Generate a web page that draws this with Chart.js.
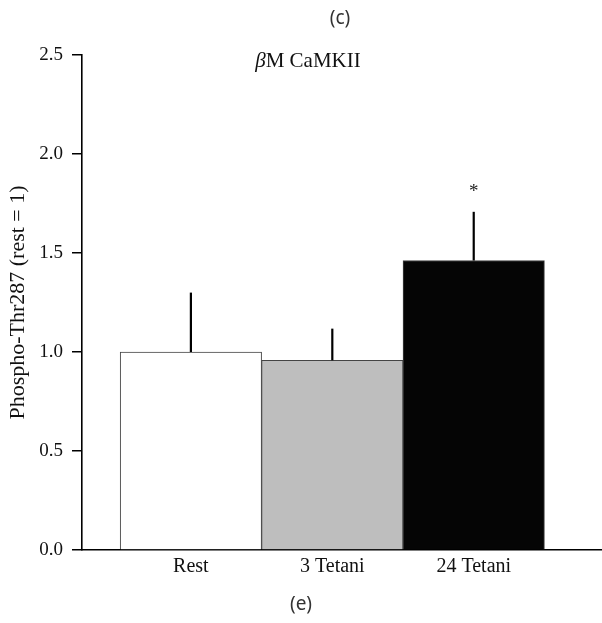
<!DOCTYPE html>
<html>
<head>
<meta charset="utf-8">
<script src="https://cdn.jsdelivr.net/npm/chart.js@4/dist/chart.umd.min.js"></script>
<style>
  html, body { margin: 0; padding: 0; background: #fff; }
  #wrap { width: 602px; height: 623px; }
</style>
</head>
<body>
<div id="wrap"><canvas id="c" width="602" height="623"></canvas></div>
<script>
// ---- data ----
const categories = ['Rest', '3 Tetani', '24 Tetani'];
const means = [1.00, 0.958, 1.462];
const errUpper = [1.30, 1.118, 1.708];
const sigMarks = ['', '', '*'];
const yTicks = [0, 0.5, 1.0, 1.5, 2.0, 2.5];
const barColors = ['#ffffff', '#bebebe', '#050505'];
const panelTop = '(c)';
const panelBottom = '(e)';
const yTitle = 'Phospho-Thr287 (rest = 1)';
const innerTitleGreek = 'β';
const innerTitleRest = 'M CaMKII';

const SERIF = '"Liberation Serif", "DejaVu Serif", serif';
const SANS = '"Noto Sans", "Open Sans", sans-serif';

const errorBars = {
  id: 'errorBars',
  afterDatasetsDraw(chart) {
    const {ctx, scales: {x, y}} = chart;
    ctx.save();
    ctx.strokeStyle = '#000';
    ctx.lineWidth = 2.2;
    means.forEach((m, i) => {
      const px = x.getPixelForValue(i + 1);
      ctx.beginPath();
      ctx.moveTo(px, y.getPixelForValue(m));
      ctx.lineTo(px, y.getPixelForValue(errUpper[i]));
      ctx.stroke();
      if (sigMarks[i]) {
        ctx.fillStyle = '#222';
        ctx.font = '19px ' + SERIF;
        ctx.textAlign = 'center';
        ctx.textBaseline = 'middle';
        ctx.fillText(sigMarks[i], px, y.getPixelForValue(errUpper[i]) - 20);
      }
    });
    ctx.restore();
  }
};

const texts = {
  id: 'texts',
  afterDraw(chart) {
    const {ctx} = chart;
    ctx.save();
    ctx.fillStyle = '#333';
    ctx.font = '19px ' + SANS;
    ctx.textAlign = 'center';
    ctx.textBaseline = 'middle';
    ctx.fillText(panelTop, 340, 19);
    ctx.fillText(panelBottom, 301, 605);
    // inner title with italic beta
    ctx.fillStyle = '#111';
    const fGreek = 'italic 21px ' + SERIF;
    const fRest = '21px ' + SERIF;
    ctx.font = fGreek;
    const wG = ctx.measureText(innerTitleGreek).width;
    ctx.font = fRest;
    const wR = ctx.measureText(innerTitleRest).width;
    const cx = 308, cy = 61;
    let sx = cx - (wG + wR) / 2;
    ctx.textAlign = 'left';
    ctx.font = fGreek;
    ctx.fillText(innerTitleGreek, sx, cy);
    ctx.font = fRest;
    ctx.fillText(innerTitleRest, sx + wG, cy);
    ctx.restore();
  }
};

new Chart(document.getElementById('c'), {
  type: 'bar',
  data: {
    datasets: [{
      data: means.map((v, i) => ({x: i + 1, y: v})),
      backgroundColor: barColors,
      borderColor: '#444',
      borderWidth: 1,
      categoryPercentage: 1.0,
      barPercentage: 1.0
    }]
  },
  options: {
    responsive: false,
    animation: false,
    layout: { padding: { top: 55, right: 1, bottom: 0, left: 0 } },
    plugins: { legend: { display: false }, tooltip: { enabled: false } },
    scales: {
      x: {
        type: 'linear',
        offset: false,
        min: 0.23,
        max: 3.9,
        grid: { display: false, drawTicks: false },
        border: { display: true, color: '#000', width: 1.6 },
        afterBuildTicks(s) { s.ticks = categories.map((c, i) => ({value: i + 1})); },
        afterFit(s) { s.height = 73; },
        ticks: {
          autoSkip: false,
          maxRotation: 0,
          padding: 5,
          color: '#111',
          font: { family: SERIF, size: 20 },
          callback: (v) => categories[Math.round(v) - 1] || ''
        }
      },
      y: {
        min: 0,
        max: 2.5,
        afterBuildTicks(s) { s.ticks = yTicks.map(v => ({value: v})); },
        afterFit(s) { s.width = 82; },
        grid: { display: true, drawOnChartArea: false, drawTicks: true, tickLength: 10, color: '#000', lineWidth: 1.5 },
        border: { display: true, color: '#000', width: 1.6 },
        ticks: {
          padding: 9,
          color: '#111',
          font: { family: SERIF, size: 19 },
          callback: (v) => Number(v).toFixed(1)
        },
        title: {
          display: true,
          text: yTitle,
          color: '#111',
          font: { family: SERIF, size: 22 },
          padding: { top: 5, bottom: 0 }
        }
      }
    }
  },
  plugins: [errorBars, texts]
});
</script>
</body>
</html>
